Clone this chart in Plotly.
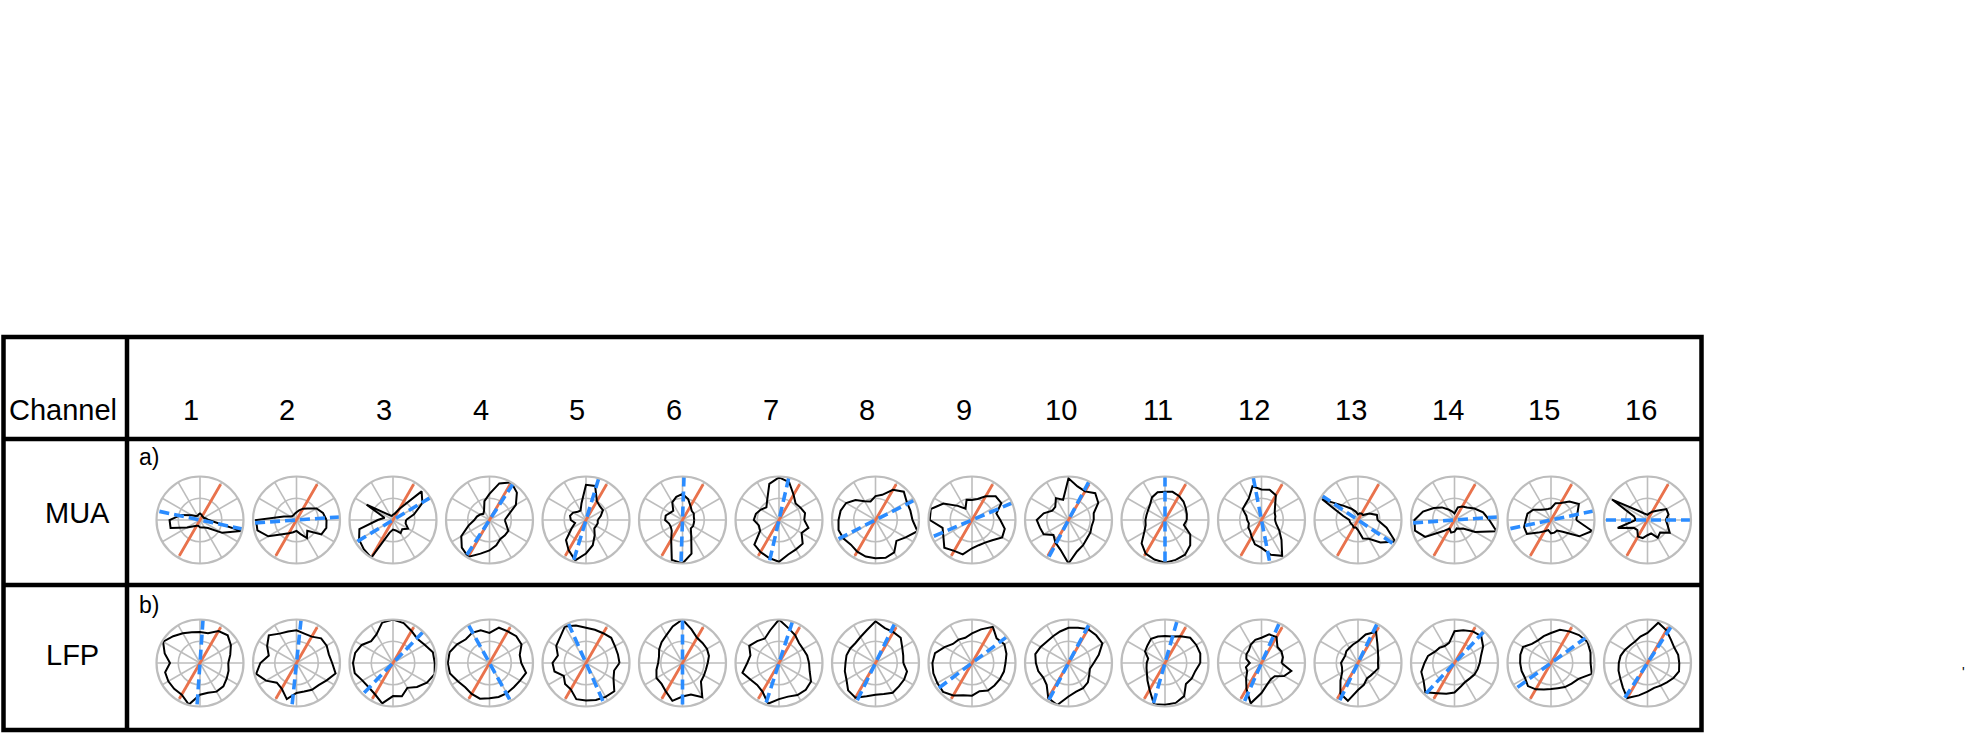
import plotly.graph_objects as go

W, H = 1965, 734

# ---------------- data ----------------
channels = [str(i) for i in range(1, 17)]
row_labels = ["MUA", "LFP"]
panel_labels = ["a)", "b)"]
header_label = "Channel"

theta = list(range(0, 360, 15))  # sampling angles of the tuning curves (deg)
reference_angle = 60              # orange reference axis (deg)

# preferred-axis orientation (blue dashed), degrees
mua_pref = [-12, 4, 31, 57, 73, 88, 77, 27, 23, 62, 90, 101, 146, 4, 12, 0]
lfp_pref = [86, 84, 46, 119, 114, 90, 72, 64, 37, 62, 74, 66, 64, 47, 36, 57]

# normalised responses, one list per channel (24 angles)
mua_r = [
    [0.2, 0.14, 0.1, 0.1, 0.1, 0.13, 0.15, 0.13, 0.11, 0.13, 0.22, 0.45, 0.7, 0.7, 0.34, 0.2, 0.15, 0.14, 0.17, 0.18, 0.2, 0.26, 0.59, 0.97],
    [0.69, 0.63, 0.53, 0.37, 0.3, 0.23, 0.18, 0.15, 0.13, 0.13, 0.16, 0.3, 0.93, 0.93, 0.75, 0.46, 0.35, 0.29, 0.25, 0.33, 0.48, 0.35, 0.66, 0.71],
    [0.3, 0.5, 0.78, 0.93, 0.3, 0.15, 0.12, 0.1, 0.12, 0.2, 0.7, 0.2, 0.35, 0.8, 0.9, 0.95, 1.0, 0.3, 0.22, 0.25, 0.35, 0.3, 0.4, 0.3],
    [0.35, 0.45, 0.7, 0.89, 1.0, 0.87, 0.6, 0.45, 0.25, 0.2, 0.25, 0.3, 0.35, 0.5, 0.75, 0.9, 0.98, 0.8, 0.7, 0.6, 0.5, 0.5, 0.5, 0.4],
    [0.27, 0.35, 0.45, 0.45, 0.5, 0.81, 0.81, 0.4, 0.25, 0.27, 0.34, 0.38, 0.35, 0.26, 0.38, 0.65, 0.8, 0.96, 0.77, 0.6, 0.4, 0.27, 0.27, 0.28],
    [0.27, 0.27, 0.3, 0.3, 0.37, 0.5, 0.6, 0.55, 0.47, 0.3, 0.33, 0.4, 0.4, 0.32, 0.31, 0.35, 0.52, 0.95, 1.0, 0.8, 0.4, 0.27, 0.28, 0.27],
    [0.58, 0.62, 0.57, 0.54, 0.67, 0.9, 0.98, 0.86, 0.54, 0.41, 0.48, 0.55, 0.58, 0.48, 0.5, 0.8, 0.85, 0.9, 0.96, 0.82, 0.78, 0.77, 0.6, 0.7],
    [0.85, 0.83, 0.83, 0.92, 0.8, 0.6, 0.55, 0.44, 0.5, 0.65, 0.78, 0.83, 0.85, 0.88, 0.85, 0.8, 0.84, 0.87, 0.88, 0.9, 0.86, 0.68, 0.8, 1.0],
    [0.65, 0.58, 0.78, 0.77, 0.63, 0.5, 0.46, 0.48, 0.3, 0.46, 0.76, 0.98, 0.97, 0.7, 0.76, 0.9, 0.82, 0.82, 0.65, 0.6, 0.6, 0.66, 0.8, 0.78],
    [0.58, 0.6, 0.79, 0.87, 0.76, 0.8, 0.96, 0.48, 0.58, 0.43, 0.43, 0.59, 0.73, 0.68, 0.66, 0.49, 0.6, 0.71, 1.0, 0.75, 0.67, 0.6, 0.58, 0.55],
    [0.5, 0.52, 0.55, 0.6, 0.64, 0.67, 0.65, 0.66, 0.6, 0.49, 0.45, 0.44, 0.45, 0.46, 0.55, 0.76, 0.89, 0.94, 0.98, 0.95, 0.92, 0.82, 0.67, 0.45],
    [0.31, 0.33, 0.35, 0.44, 0.66, 0.72, 0.7, 0.8, 0.58, 0.52, 0.5, 0.36, 0.33, 0.3, 0.35, 0.37, 0.45, 0.58, 0.64, 0.83, 0.95, 0.65, 0.47, 0.35],
    [0.45, 0.45, 0.3, 0.16, 0.17, 0.16, 0.13, 0.2, 0.3, 0.46, 0.95, 0.35, 0.2, 0.19, 0.18, 0.17, 0.2, 0.18, 0.23, 0.44, 0.5, 0.73, 0.99, 0.68],
    [0.8, 0.68, 0.53, 0.41, 0.36, 0.3, 0.15, 0.2, 0.28, 0.41, 0.55, 0.75, 0.92, 0.94, 0.78, 0.36, 0.23, 0.3, 0.27, 0.2, 0.23, 0.28, 0.55, 1.0],
    [0.58, 0.63, 0.74, 0.6, 0.45, 0.4, 0.27, 0.26, 0.28, 0.33, 0.47, 0.56, 0.58, 0.64, 0.64, 0.41, 0.3, 0.24, 0.31, 0.3, 0.28, 0.38, 0.75, 0.98],
    [0.42, 0.5, 0.5, 0.3, 0.22, 0.16, 0.12, 0.14, 0.18, 0.3, 0.94, 0.32, 0.27, 0.71, 0.36, 0.33, 0.44, 0.43, 0.35, 0.32, 0.47, 0.41, 0.59, 0.48],
]

lfp_r = [
    [0.65, 0.72, 0.82, 0.9, 0.85, 0.71, 0.71, 0.73, 0.79, 0.87, 0.98, 0.84, 0.69, 0.83, 0.84, 0.84, 0.84, 0.99, 0.73, 0.71, 0.76, 0.76, 0.71, 0.68],
    [0.82, 0.77, 0.8, 0.8, 0.7, 0.7, 0.75, 0.75, 0.78, 0.9, 0.78, 0.66, 0.83, 0.96, 0.81, 0.64, 0.68, 0.86, 0.69, 0.68, 0.71, 0.72, 0.8, 0.93],
    [0.96, 0.95, 0.84, 0.79, 0.85, 0.95, 1.0, 0.96, 0.76, 0.71, 0.83, 0.9, 0.92, 0.91, 0.81, 0.79, 0.83, 0.96, 0.76, 0.79, 0.66, 0.78, 0.9, 0.99],
    [0.73, 0.72, 0.85, 0.87, 0.84, 0.84, 0.69, 0.78, 0.8, 0.77, 0.86, 0.95, 0.96, 0.94, 0.84, 0.79, 0.82, 0.85, 0.81, 0.81, 0.8, 0.79, 0.81, 0.87],
    [0.77, 0.76, 0.77, 0.82, 0.79, 0.79, 0.81, 0.89, 0.97, 0.84, 0.79, 0.67, 0.77, 0.75, 0.59, 0.68, 0.7, 0.86, 0.86, 0.88, 0.9, 0.92, 0.73, 0.67],
    [0.58, 0.63, 0.65, 0.65, 0.67, 0.8, 1.0, 0.87, 0.74, 0.68, 0.62, 0.56, 0.56, 0.62, 0.69, 0.68, 0.76, 0.9, 0.77, 0.75, 0.91, 0.6, 0.57, 0.56],
    [0.69, 0.67, 0.64, 0.65, 0.74, 0.83, 1.0, 0.78, 0.65, 0.71, 0.79, 0.68, 0.73, 0.87, 0.76, 0.71, 0.76, 0.97, 0.83, 0.8, 0.85, 0.87, 0.85, 0.73],
    [0.64, 0.66, 0.71, 0.82, 0.82, 0.83, 0.96, 0.78, 0.69, 0.65, 0.67, 0.69, 0.69, 0.73, 0.77, 0.89, 0.92, 0.79, 0.73, 0.74, 0.79, 0.76, 0.76, 0.75],
    [0.77, 0.82, 0.86, 0.8, 0.96, 0.8, 0.68, 0.6, 0.62, 0.62, 0.73, 0.88, 0.91, 0.92, 0.92, 0.94, 0.86, 0.77, 0.75, 0.67, 0.73, 0.73, 0.74, 0.76],
    [0.58, 0.72, 0.9, 0.9, 0.9, 0.84, 0.81, 0.75, 0.71, 0.7, 0.74, 0.79, 0.75, 0.72, 0.67, 0.71, 0.93, 1.0, 0.77, 0.68, 0.67, 0.63, 0.55, 0.51],
    [0.81, 0.84, 0.83, 0.82, 0.71, 0.63, 0.62, 0.63, 0.64, 0.57, 0.53, 0.4, 0.42, 0.44, 0.48, 0.57, 0.71, 0.98, 0.96, 0.95, 0.88, 0.68, 0.71, 0.72],
    [0.46, 0.51, 0.53, 0.52, 0.69, 0.68, 0.58, 0.55, 0.49, 0.41, 0.4, 0.36, 0.27, 0.37, 0.38, 0.5, 0.69, 0.96, 0.69, 0.51, 0.43, 0.43, 0.6, 0.71],
    [0.46, 0.48, 0.53, 0.63, 0.83, 0.68, 0.5, 0.44, 0.4, 0.38, 0.34, 0.35, 0.39, 0.38, 0.42, 0.57, 0.81, 0.9, 0.62, 0.52, 0.41, 0.41, 0.43, 0.48],
    [0.58, 0.63, 0.76, 0.87, 0.84, 0.78, 0.73, 0.48, 0.45, 0.49, 0.52, 0.63, 0.69, 0.79, 0.82, 0.95, 0.8, 0.73, 0.68, 0.56, 0.5, 0.5, 0.53, 0.55],
    [0.91, 0.94, 0.97, 0.91, 0.84, 0.79, 0.69, 0.64, 0.6, 0.62, 0.74, 0.73, 0.71, 0.7, 0.69, 0.75, 0.7, 0.63, 0.6, 0.6, 0.64, 0.67, 0.73, 0.97],
    [0.73, 0.73, 0.71, 0.76, 0.87, 0.96, 0.69, 0.63, 0.57, 0.57, 0.6, 0.64, 0.66, 0.69, 0.72, 0.8, 0.93, 0.77, 0.66, 0.59, 0.6, 0.63, 0.69, 0.75],
]

# ---------------- styling / layout ----------------
GRID = "#BDBDBD"
ORANGE = "#E9724C"
BLUE = "#2B8CFF"
FONT = "Arial, Liberation Sans, sans-serif"

R = 43.5            # polar radius in px
X0, DX = 200, 96.5  # polar centers
ROW_CY = [520, 663]
LABEL_X0, LABEL_DX = 190.5, 96.7

fig = go.Figure()
layout_polars = {}
idx = 0
for row, (rdata, pref) in enumerate([(mua_r, mua_pref), (lfp_r, lfp_pref)]):
    for i in range(len(channels)):
        idx += 1
        name = "polar" if idx == 1 else f"polar{idx}"
        cx = X0 + DX * i
        cy = ROW_CY[row]
        layout_polars[name] = dict(
            domain=dict(x=[(cx - R) / W, (cx + R) / W],
                        y=[1 - (cy + R) / H, 1 - (cy - R) / H]),
            bgcolor="white",
            radialaxis=dict(range=[0, 1], tickvals=[0.5], showticklabels=False,
                            ticks="", showline=False, gridcolor=GRID, gridwidth=1.6),
            angularaxis=dict(dtick=30, rotation=0, direction="counterclockwise",
                             showticklabels=False, ticks="", gridcolor=GRID,
                             gridwidth=1.6, showline=True, linecolor=GRID, linewidth=2.2),
        )
        fig.add_trace(go.Scatterpolar(
            r=[0.95, 0, 0.95], theta=[reference_angle, 0, reference_angle + 180],
            mode="lines", line=dict(color=ORANGE, width=2.8), subplot=name,
            hoverinfo="skip"))
        fig.add_trace(go.Scatterpolar(
            r=rdata[i] + [rdata[i][0]], theta=theta + [theta[0]],
            mode="lines", line=dict(color="black", width=2), subplot=name,
            hoverinfo="skip"))
        fig.add_trace(go.Scatterpolar(
            r=[1, 0, 1], theta=[pref[i], 0, pref[i] + 180],
            mode="lines", line=dict(color=BLUE, width=3.6, dash="10px,5px"),
            subplot=name, hoverinfo="skip"))

# table lines (pixel positions -> paper)
def px(x):
    return x / W

def py(y):
    return 1 - y / H

LW = 4.5
table_left, table_right, table_top, table_bottom = 3.5, 1701.5, 337, 730
col_div = 127
row_divs = [439, 585]
shapes = [
    dict(type="rect", xref="paper", yref="paper", x0=px(table_left), x1=px(table_right),
         y0=py(table_bottom), y1=py(table_top), line=dict(color="black", width=LW)),
    dict(type="line", xref="paper", yref="paper", x0=px(col_div), x1=px(col_div),
         y0=py(table_bottom), y1=py(table_top), line=dict(color="black", width=LW)),
]
for yd in row_divs:
    shapes.append(dict(type="line", xref="paper", yref="paper", x0=px(table_left),
                       x1=px(table_right), y0=py(yd), y1=py(yd),
                       line=dict(color="black", width=LW)))


def label(text, x, y, size, xanchor="center"):
    return dict(text=text, x=px(x), y=py(y), xref="paper", yref="paper",
                xanchor=xanchor, yanchor="middle", showarrow=False,
                font=dict(size=size, color="black", family=FONT))


annotations = [label(header_label, 63, 410, 29)]
for i, ch in enumerate(channels):
    annotations.append(label(ch, LABEL_X0 + LABEL_DX * i, 410, 29))
for lbl, (lx, ly) in zip(row_labels, [(77, 513), (72, 655)]):
    annotations.append(label(lbl, lx, ly, 29))
for lbl, ly in zip(panel_labels, [457, 605]):
    annotations.append(label(lbl, 137, ly, 23, xanchor="left"))
annotations.append(label("'", 1963, 672, 14))

fig.update_layout(
    width=W, height=H, margin=dict(l=0, r=0, t=0, b=0),
    paper_bgcolor="white", plot_bgcolor="white", showlegend=False,
    shapes=shapes, annotations=annotations, hovermode=False,
    **layout_polars,
)

fig.write_html(
    "out.html",
    config={"displayModeBar": False, "staticPlot": True},
    post_script="document.body.style.margin='0px';document.body.style.overflow='hidden';",
)
